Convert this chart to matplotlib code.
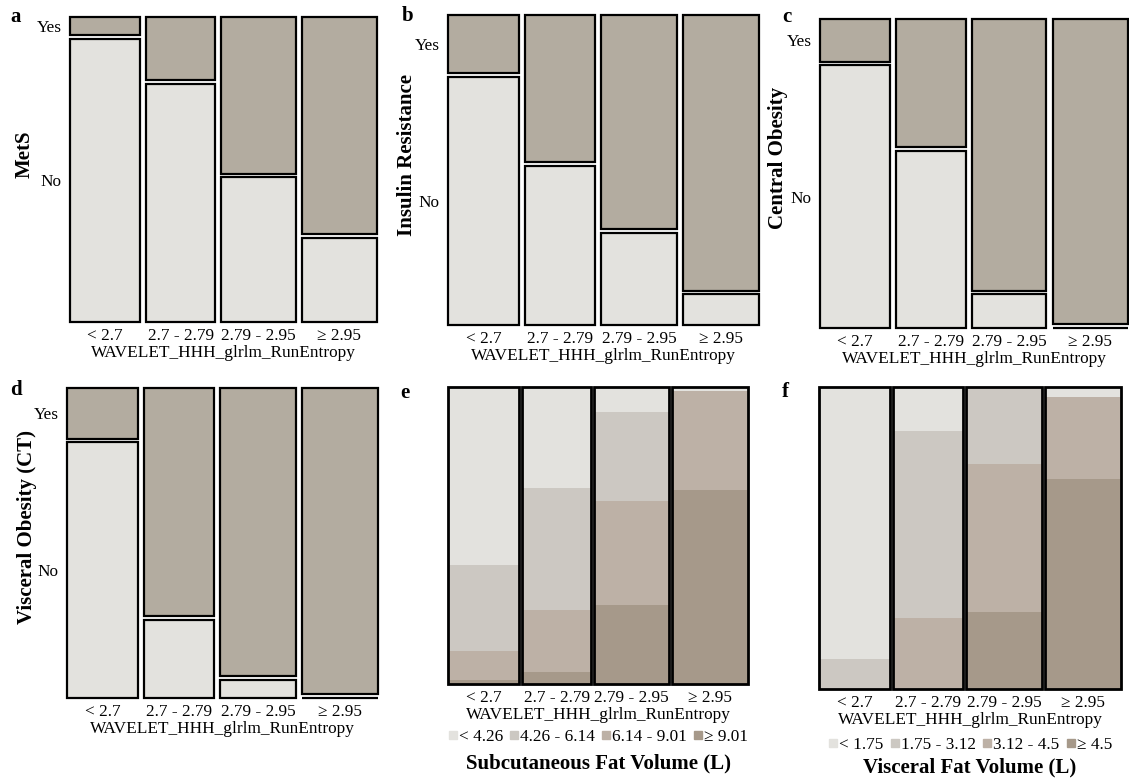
import matplotlib
matplotlib.use("Agg")
import matplotlib.pyplot as plt
from matplotlib.lines import Line2D

plt.rcParams['font.family'] = ['Liberation Serif', 'DejaVu Serif']
plt.rcParams['font.size'] = 12

# --- datos ---
entropy_groups = ['< 2.7', '2.7 - 2.79', '2.79 - 2.95', '≥ 2.95']
group_sizes = [70, 69, 74, 75]

# proporción "Yes" en cada grupo
mets_yes = [0.06, 0.21, 0.52, 0.72]
insulin_yes = [0.19, 0.48, 0.70, 0.90]
central_yes = [0.14, 0.42, 0.89, 1.0]
visceral_ct_yes = [0.165, 0.745, 0.94, 1.0]

sfv_labels = ['< 4.26', '4.26 - 6.14', '6.14 - 9.01', '≥ 9.01']
sfv_q1 = [0.60, 0.34, 0.085, 0.013]
sfv_q2 = [0.29, 0.41, 0.30, 0.0]
sfv_q3 = [0.097, 0.21, 0.35, 0.335]
sfv_q4 = [0.013, 0.04, 0.265, 0.652]

vfv_labels = ['< 1.75', '1.75 - 3.12', '3.12 - 4.5', '≥ 4.5']
vfv_q1 = [0.90, 0.145, 0.0, 0.033]
vfv_q2 = [0.10, 0.62, 0.255, 0.0]
vfv_q3 = [0.0, 0.235, 0.49, 0.27]
vfv_q4 = [0.0, 0.0, 0.255, 0.697]

# --- estilo ---
C_NO = '#E3E2DE'
C_YES = '#B3ACA0'
LEVEL_COLORS = ['#E3E2DE', '#CCC8C2', '#BDB1A6', '#A6998A']
W, H = 1129, 778
FS = 12.4


def add_ax(fig, x0, y0, x1, y1):
    # coordenadas en pixeles (origen arriba a la izquierda)
    return fig.add_axes([x0 / W, 1 - y1 / H, (x1 - x0) / W, (y1 - y0) / H])


def col_positions(sizes, gap):
    lefts, x = [], 0
    for s in sizes:
        lefts.append(x)
        x += s + gap
    return lefts, x - gap


def base_axes(ax, sizes, gap):
    lefts, total = col_positions(sizes, gap)
    ax.set_xlim(0, total)
    ax.set_ylim(0, 1)
    for sp in ax.spines.values():
        sp.set_visible(False)
    ax.set_xticks([l + s / 2 for l, s in zip(lefts, sizes)])
    ax.set_xticklabels(entropy_groups)
    ax.tick_params(length=0, pad=4, labelsize=FS)
    ax.set_xlabel('WAVELET_HHH_glrlm_RunEntropy', fontsize=FS, labelpad=1)
    return lefts


def mosaic_binary(ax, yes, ylabel, label_x, vgap=0.012):
    lefts = base_axes(ax, group_sizes, 6)
    usable = 1 - vgap
    no_h = [(1 - p) * usable for p in yes]
    yes_h = [p * usable for p in yes]
    yes_b = [h + vgap for h in no_h]
    kw = dict(align='edge', edgecolor='black', linewidth=1.6, clip_on=False)
    ax.bar(lefts, no_h, width=group_sizes, color=C_NO, **kw)
    ax.bar(lefts, yes_h, width=group_sizes, bottom=yes_b, color=C_YES, **kw)
    # etiquetas Yes/No a la altura de la primera columna
    ax.set_yticks([no_h[0] / 2, yes_b[0] + yes_h[0] / 2])
    ax.set_yticklabels(['No', 'Yes'])
    ax.tick_params(axis='y', pad=6)
    ax.set_ylabel(ylabel, fontsize=15, fontweight='bold')
    ax.yaxis.set_label_coords(label_x, 0.55)


def mosaic_levels(ax, levels, labels, title, leg_y, title_y):
    lefts = base_axes(ax, group_sizes, 3)
    ax.set_yticks([])
    bottom = [0.0] * len(group_sizes)
    # el último nivel va abajo
    for lvl, col in reversed(list(zip(levels, LEVEL_COLORS))):
        ax.bar(lefts, lvl, width=group_sizes, bottom=bottom, color=col,
               align='edge', linewidth=0)
        bottom = [b + v for b, v in zip(bottom, lvl)]
    ax.bar(lefts, bottom, width=group_sizes, fill=False, align='edge',
           edgecolor='black', linewidth=2.0, clip_on=False)
    handles = [Line2D([], [], marker='s', linestyle='none', markersize=5.5,
                      markerfacecolor=c, markeredgecolor=c)
               for c in LEVEL_COLORS]
    ax.legend(handles, labels, ncol=4, loc='center',
              bbox_to_anchor=(0.5, leg_y), frameon=False, fontsize=FS,
              handlelength=0.6, handletextpad=0.05, columnspacing=0.35,
              borderaxespad=0)
    ax.text(0.5, title_y, title, transform=ax.transAxes, ha='center',
            va='center', fontsize=15, fontweight='bold')


fig = plt.figure(figsize=(W / 100, H / 100), dpi=100)

ax_a = add_ax(fig, 70, 17, 377, 322)
mosaic_binary(ax_a, mets_yes, 'MetS', -0.114)
ax_b = add_ax(fig, 448, 15, 759, 325)
mosaic_binary(ax_b, insulin_yes, 'Insulin Resistance', -0.10)
ax_c = add_ax(fig, 820, 19, 1128, 328)
mosaic_binary(ax_c, central_yes, 'Central Obesity', -0.104)
ax_d = add_ax(fig, 67, 388, 378, 698)
mosaic_binary(ax_d, visceral_ct_yes, 'Visceral Obesity (CT)', -0.096)

ax_e = add_ax(fig, 448, 387, 748, 684)
mosaic_levels(ax_e, [sfv_q1, sfv_q2, sfv_q3, sfv_q4], sfv_labels,
              'Subcutaneous Fat Volume (L)', -0.18, -0.267)
ax_f = add_ax(fig, 819, 387, 1121, 689)
mosaic_levels(ax_f, [vfv_q1, vfv_q2, vfv_q3, vfv_q4], vfv_labels,
              'Visceral Fat Volume (L)', -0.185, -0.26)

# letras de los paneles
for letter, (px, py) in zip('abcdef', [(10, 17), (402, 16), (782, 17),
                                       (10, 390), (400, 393), (782, 392)]):
    fig.text(px / W, 1 - py / H, letter, fontsize=15, fontweight='bold',
             ha='left', va='center')

fig.savefig('out.png', dpi=100)
